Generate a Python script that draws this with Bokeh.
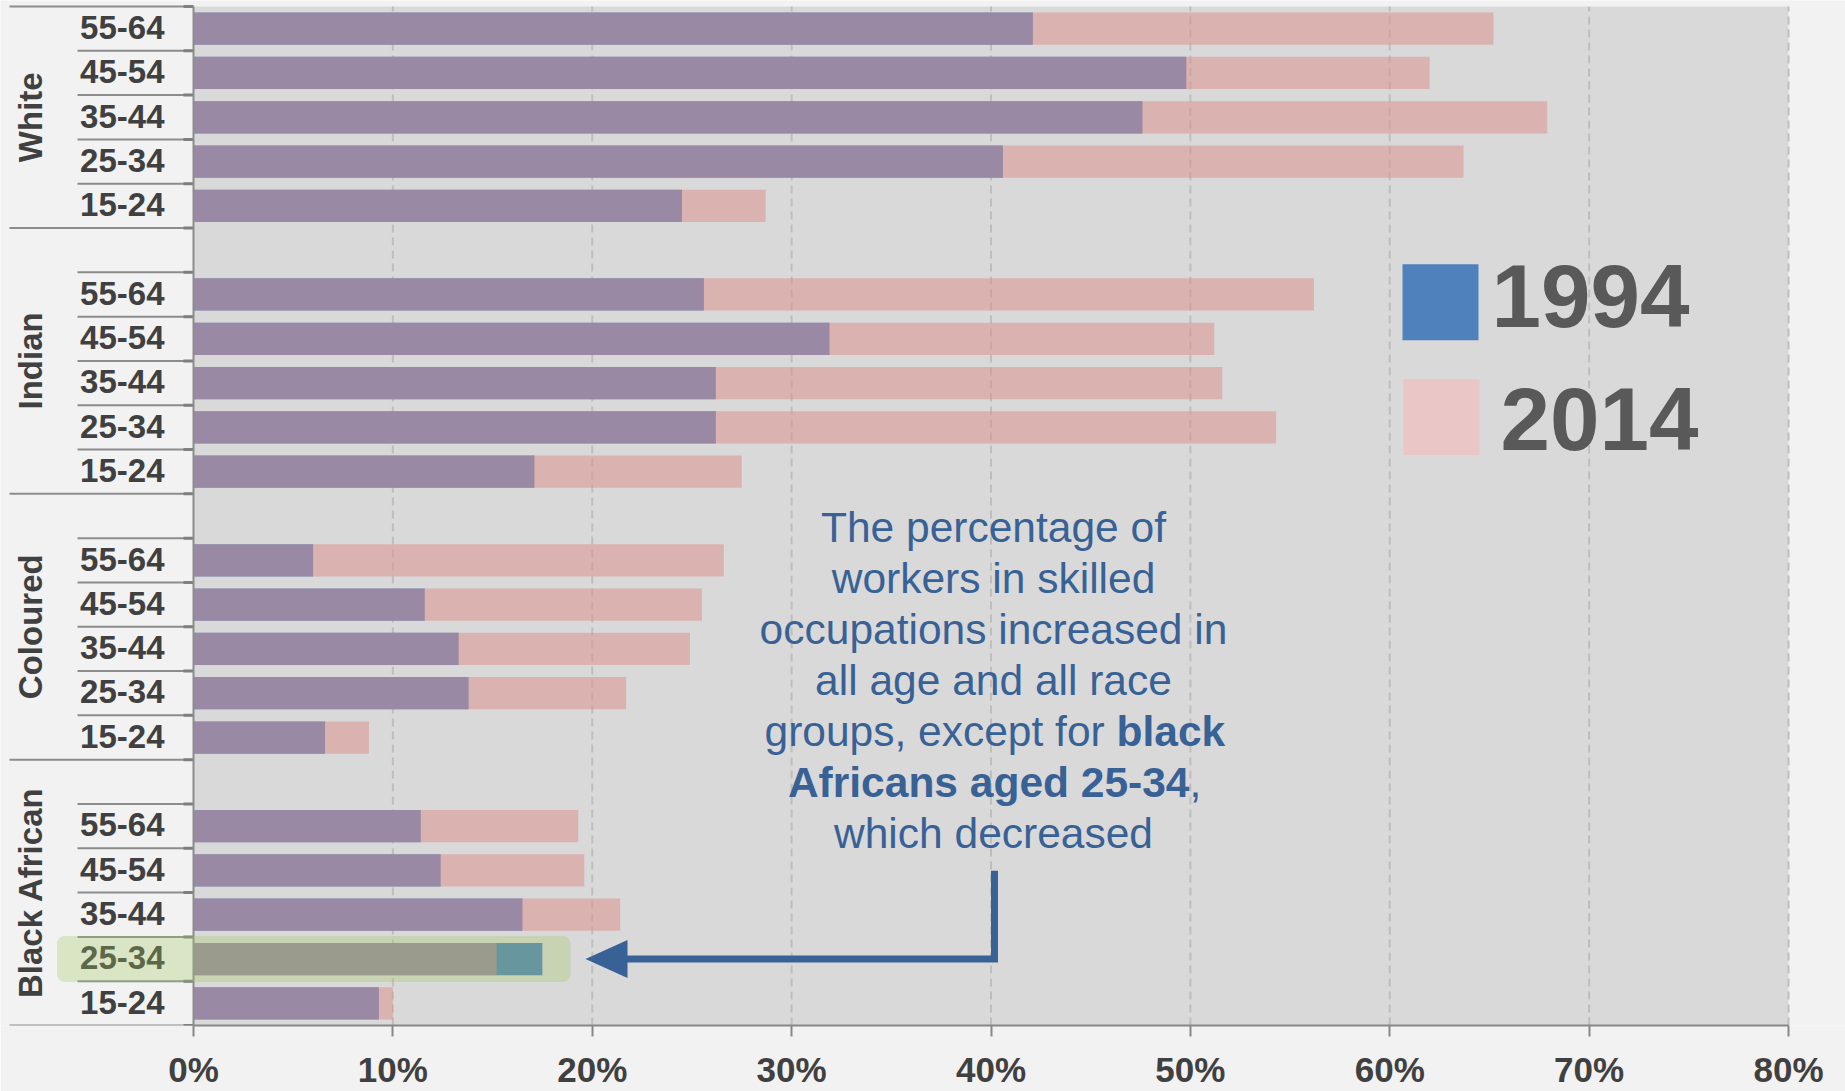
import math

from bokeh.plotting import figure
from bokeh.models import Range1d, LinearAxis, FixedTicker, PrintfTickFormatter
from bokeh.core.properties import value
from bokeh.embed import file_html
from bokeh.resources import INLINE

# ---------------------------------------------------------------- data
races = ["White", "Indian", "Coloured", "Black African"]
ages = ["55-64", "45-54", "35-44", "25-34", "15-24"]

# share of workers in skilled occupations (%), rows ordered race by race,
# oldest age band first
pct_1994 = [
    42.1, 49.8, 47.6, 40.6, 24.5,   # White
    25.6, 31.9, 26.2, 26.2, 17.1,   # Indian
    6.0, 11.6, 13.3, 13.8, 6.6,     # Coloured
    11.4, 12.4, 16.5, 17.5, 9.3,    # Black African
]
pct_2014 = [
    65.2, 62.0, 67.9, 63.7, 28.7,   # White
    56.2, 51.2, 51.6, 54.3, 27.5,   # Indian
    26.6, 25.5, 24.9, 21.7, 8.8,    # Coloured
    19.3, 19.6, 21.4, 15.2, 10.0,   # Black African
]
x_ticks = [0, 10, 20, 30, 40, 50, 60, 70, 80]
years = ["1994", "2014"]

highlight_race = "Black African"
highlight_age = "25-34"

note_regular = ["The percentage of", "workers in skilled",
                "occupations increased in", "all age and all race"]
note_mixed_1 = ("groups, except for ", "black")
note_mixed_2 = ("Africans aged 25-34", ",")
note_last = "which decreased"

# ---------------------------------------------------------------- layout
W, H = 1845, 1091
FRAME_H = 1026
X0_PX, XMAX_PX = 193, 1788
PX_PER = (XMAX_PX - X0_PX) / (x_ticks[-1] - x_ticks[0])
N_SLOTS = 23                      # 4 groups of 5 rows + 3 spacer rows
SLOT_PX = (FRAME_H - 6) / N_SLOTS
BAR_H = 0.728


def xd(px):
    return (px - X0_PX) / PX_PER


def yd(py):
    return (FRAME_H - py) / SLOT_PX


def base_shift(size):
    # lift an alphabetic-baseline text so its baseline lands on the anchor
    return -0.34 * size


FONT = value("Liberation Sans")
DARK = "#404040"
NOTE_BLUE = "#386196"
RULE = "#8c8c8c"

# slot index counted from the top: White has no spacer above it
slot_top = [g * 6 + a for g in range(len(races)) for a in range(len(ages))]
y_rows = [N_SLOTS - s - 0.5 for s in slot_top]
row_ages = [a for _ in races for a in ages]
row_races = [r for r in races for _ in ages]
race_y = [N_SLOTS - 2.5] + [N_SLOTS - (g * 6 + 2) for g in range(1, len(races))]

p = figure(width=W, height=H,
           x_range=Range1d(xd(0), xd(W)), y_range=Range1d(0, yd(0)),
           x_axis_type=None, y_axis_type=None,
           output_backend="svg", toolbar_location=None,
           min_border_left=0, min_border_right=0, min_border_top=0,
           min_border_bottom=H - FRAME_H,
           background_fill_color="#f2f2f2", border_fill_color="#f2f2f2",
           outline_line_color=None)

# plot panel and dashed vertical grid
p.quad(left=[x_ticks[0]], right=[x_ticks[-1]], bottom=[0], top=[N_SLOTS],
       fill_color="#d9d9d9", line_color=None)
p.segment(x0=x_ticks[1:], y0=0, x1=x_ticks[1:], y1=N_SLOTS,
          line_color="#bebebe", line_width=2, line_dash="8 5")

# bars: 1994 in blue, 2014 translucent on top of it
p.hbar(y=y_rows, left=0, right=pct_1994, height=BAR_H,
       fill_color="#4f81bd", line_color=None)
p.hbar(y=y_rows, left=0, right=pct_2014, height=BAR_H,
       fill_color="#db918d", fill_alpha=0.53, line_color=None)

# category rules in the label column
group_edges = {0, 6, 12, 18, N_SLOTS}
long_y = sorted(group_edges)
short_y = [b for b in range(N_SLOTS + 1) if b not in group_edges]
p.segment(x0=xd(9), y0=long_y, x1=0, y1=long_y, line_color=RULE, line_width=2)
p.segment(x0=xd(77), y0=short_y, x1=0, y1=short_y, line_color=RULE, line_width=2)
all_edges = list(range(N_SLOTS + 1))
p.segment(x0=xd(183), y0=all_edges, x1=0, y1=all_edges,
          line_color="#7f7f7f", line_width=3)
p.segment(x0=[0], y0=[0], x1=[0], y1=[N_SLOTS], line_color=RULE, line_width=2)

# age and race labels
AGE_SIZE = 33
p.text(x=xd(164), y=y_rows, text=row_ages, text_align="right",
       text_baseline="alphabetic", y_offset=10 + base_shift(AGE_SIZE),
       text_font=FONT, text_font_style="bold", text_font_size=f"{AGE_SIZE}px",
       text_color=DARK)
p.text(x=xd(30), y=race_y, text=races, angle=math.pi / 2,
       text_align="center", text_baseline="alphabetic",
       text_font=FONT, text_font_style="bold", text_font_size="33px",
       text_color=DARK)

# x axis
axis = LinearAxis(ticker=FixedTicker(ticks=x_ticks),
                  formatter=PrintfTickFormatter(format="%d%%"),
                  bounds=(x_ticks[0], x_ticks[-1]),
                  axis_line_color="#878787", axis_line_width=2,
                  major_tick_line_color="#878787", major_tick_line_width=2,
                  major_tick_out=11, major_tick_in=0,
                  minor_tick_line_color=None,
                  major_label_text_font="Liberation Sans",
                  major_label_text_font_style="bold",
                  major_label_text_font_size="35px",
                  major_label_text_color=DARK,
                  major_label_standoff=13)
p.add_layout(axis, "below")

# highlighted row
hi = [i for i in range(len(y_rows))
      if row_races[i] == highlight_race and row_ages[i] == highlight_age][0]
yc = y_rows[hi]
p.quad(left=[xd(56.5)], right=[xd(570)], bottom=[yc - 0.52], top=[yc + 0.52],
       fill_color="#a0c85a", fill_alpha=0.3, line_color=None, border_radius=8)

# elbow arrow from the note to the highlighted row
p.line(x=[xd(994), xd(994), xd(622)], y=[yd(871), yc, yc],
       line_color=NOTE_BLUE, line_width=7, line_join="miter")
p.patch(x=[xd(585), xd(627), xd(627)], y=[yc, yc + 0.43, yc - 0.43],
        fill_color=NOTE_BLUE, line_color=None)

# note text
NOTE_SIZE = 42.5
NOTE_X = xd(993)
base0, lead = 541.5, 51.1
note_style = dict(text_font=FONT, text_font_size=f"{NOTE_SIZE}px",
                  text_color=NOTE_BLUE, text_baseline="alphabetic",
                  y_offset=base_shift(NOTE_SIZE))
p.text(x=NOTE_X, y=[yd(base0 + lead * k) for k in range(len(note_regular))],
       text=note_regular, text_align="center", **note_style)
split1 = xd(1116)
p.text(x=[split1], y=[yd(base0 + lead * 4)], text=[note_mixed_1[0]],
       text_align="right", **note_style)
p.text(x=[split1], y=[yd(base0 + lead * 4)], text=[note_mixed_1[1]],
       text_align="left", text_font_style="bold", **note_style)
split2 = xd(1189)
p.text(x=[split2], y=[yd(base0 + lead * 5)], text=[note_mixed_2[0]],
       text_align="right", text_font_style="bold", **note_style)
p.text(x=[split2], y=[yd(base0 + lead * 5)], text=[note_mixed_2[1]],
       text_align="left", **note_style)
p.text(x=NOTE_X, y=[yd(base0 + lead * 6)], text=[note_last],
       text_align="center", **note_style)

# legend
LEG_SIZE = 89
p.quad(left=[xd(1402), xd(1403)], right=[xd(1478), xd(1479)],
       bottom=[yd(340), yd(455)], top=[yd(264), yd(379)],
       fill_color=["#4f81bd", "#eac6c6"], line_color=None)
p.text(x=[xd(1491), xd(1500)], y=[yd(326), yd(449)], text=years,
       text_align="left", text_baseline="alphabetic",
       y_offset=base_shift(LEG_SIZE),
       text_font=FONT, text_font_style="bold", text_font_size=f"{LEG_SIZE}px",
       text_color="#595959")

open("out.html", "w").write(file_html(p, INLINE))
